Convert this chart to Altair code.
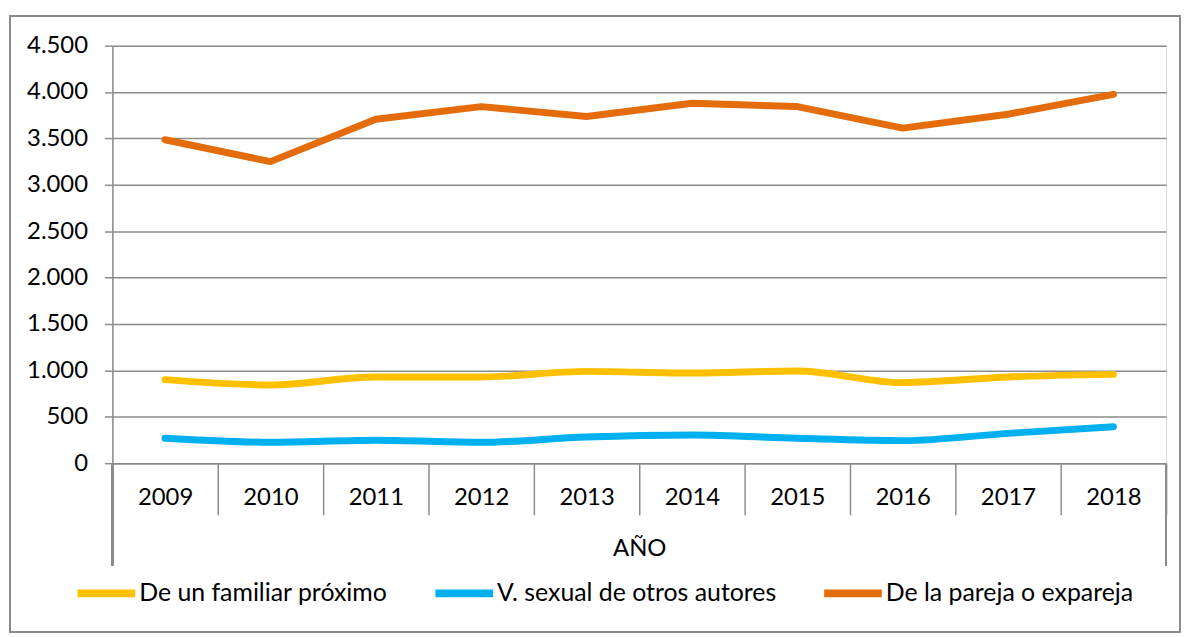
import altair as alt
import pandas as pd

years = [2009, 2010, 2011, 2012, 2013, 2014, 2015, 2016, 2017, 2018]
familiar = [900, 843, 929, 929, 989, 971, 993, 868, 929, 957]
sexual = [268, 225, 246, 225, 282, 304, 268, 243, 321, 393]
pareja = [3486, 3250, 3707, 3843, 3736, 3879, 3843, 3611, 3761, 3975]

series_names = ["De un familiar próximo", "V. sexual de otros autores", "De la pareja o expareja"]
series_colors = ["#FFC000", "#00B0F0", "#E46C0A"]
y_ticks = [0, 500, 1000, 1500, 2000, 2500, 3000, 3500, 4000, 4500]

rows = []
for name, vals in zip(series_names, [familiar, sexual, pareja]):
    for yr, v in zip(years, vals):
        rows.append({"year": yr, "value": v, "serie": name})
df = pd.DataFrame(rows)

W, H = 1060, 420
FONT = "Lato"
FS = 24
GRAY = "#8c8c8c"

x = alt.X(
    "year:O",
    scale=alt.Scale(type="band", paddingInner=0, paddingOuter=0),
    axis=alt.Axis(
        title="AÑO", titleFont=FONT, titleFontSize=FS, titleFontWeight="normal",
        titleColor="black", titlePadding=21,
        labelFont=FONT, labelFontSize=FS, labelColor="black", labelAngle=0,
        labelBaseline="middle", labelPadding=-17,
        tickBand="extent", tickSize=52, tickColor=GRAY, tickWidth=1.5,
        domainColor=GRAY, domainWidth=1.5, grid=False,
    ),
)
y = alt.Y(
    "value:Q",
    scale=alt.Scale(domain=[0, 4500], nice=False),
    axis=alt.Axis(
        title=None, values=y_ticks,
        labelExpr="replace(format(datum.value, ',.0f'), ',', '.')",
        labelFont=FONT, labelFontSize=FS, labelColor="black", labelPadding=17,
        tickSize=8, tickColor=GRAY, tickWidth=1.5,
        domainColor=GRAY, domainWidth=1.5,
        grid=True, gridColor=GRAY, gridWidth=1.5,
    ),
)
color = alt.Color(
    "serie:N",
    scale=alt.Scale(domain=series_names, range=series_colors),
    legend=alt.Legend(
        orient="none", legendX=-39, legendY=518, direction="horizontal", title=None,
        symbolType="stroke", symbolSize=3364, symbolStrokeWidth=8,
        labelFont=FONT, labelFontSize=25, labelColor="black", labelLimit=500,
        columnPadding=32, labelOffset=0, padding=0,
    ),
)

base = alt.Chart(df)
smooth = base.transform_filter(
    alt.FieldOneOfPredicate(field="serie", oneOf=series_names[:2])
).mark_line(strokeWidth=7, interpolate="monotone", strokeCap="round", strokeJoin="round").encode(
    x=x, y=y, color=color, detail="serie:N"
)
straight = base.transform_filter(
    alt.FieldEqualPredicate(field="serie", equal=series_names[2])
).mark_line(strokeWidth=7, strokeCap="round", strokeJoin="round").encode(
    x=x, y=y, color=color
)

ext_left = alt.Chart(df).mark_rule(color=GRAY, strokeWidth=1.5).encode(
    x=alt.value(0), y=alt.value(H), y2=alt.value(H + 103)
)
ext_right = alt.Chart(df).mark_rule(color=GRAY, strokeWidth=1.5).encode(
    x=alt.value(W), y=alt.value(H), y2=alt.value(H + 103)
)
border = alt.Chart(df).mark_rect(fill=None, stroke=GRAY, strokeWidth=1).encode(
    x=alt.value(-103), x2=alt.value(W + 14), y=alt.value(-30), y2=alt.value(H + 170)
)

chart = alt.layer(border, ext_left, ext_right, smooth, straight).properties(
    width=W, height=H,
    padding={"left": 1, "top": 5, "right": 0, "bottom": 0},
).configure_view(stroke=None).configure(background="white")

chart.save("out.html", embed_options={"renderer": "svg", "actions": False})
